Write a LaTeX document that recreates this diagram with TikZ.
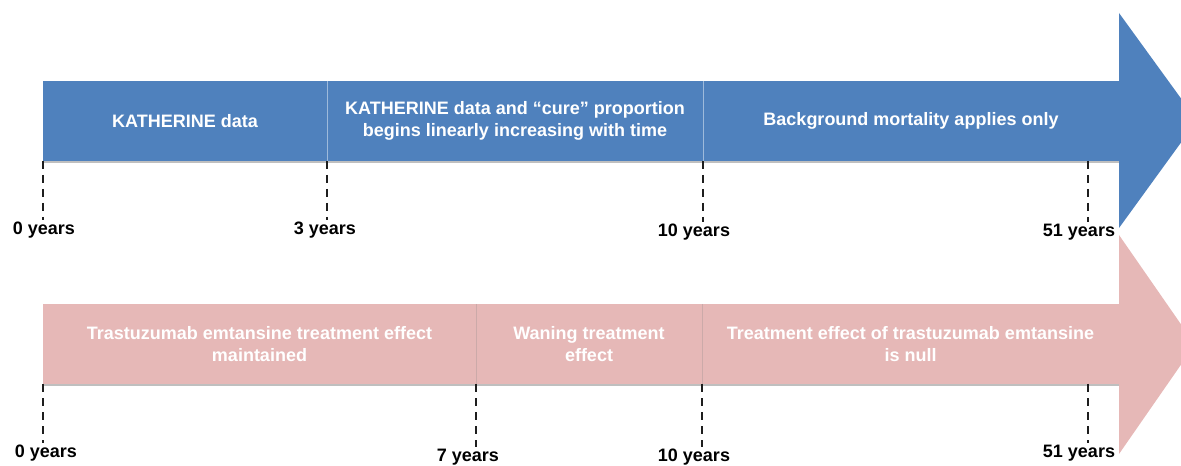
\documentclass[tikz,border=0pt]{standalone}
\usepackage{fontspec}
\setmainfont{Liberation Sans}
\usetikzlibrary{positioning,shadows}
\definecolor{barblue}{RGB}{79,129,189}
\definecolor{barpink}{RGB}{230,184,183}
\definecolor{tickgray}{RGB}{30,30,30}

\tikzset{
  segment/.style={minimum height=60pt, inner sep=2pt, outer sep=0pt, align=center,
    text=white, font=\fontsize{13.5}{17}\selectfont\bfseries,
    drop shadow={shadow xshift=0pt, shadow yshift=-1.5pt, opacity=0.25, fill=black}},
  bluebar/.style={segment, fill=barblue},
  pinkbar/.style={segment, fill=barpink},
  bluediv/.style={draw=barblue!55!white, line width=0.6pt},
  pinkdiv/.style={draw=barpink!75!gray, line width=0.6pt},
  yearlbl/.style={inner sep=0pt, text=black, font=\fontsize{13.5}{16}\selectfont\bfseries},
  tick/.style={draw=tickgray, line width=1.5pt, dash pattern=on 6pt off 4.5pt, shorten >=1pt},
}

\begin{document}
\begin{tikzpicture}[x=0.75pt, y=-0.75pt]
  \useasboundingbox (0,0) rectangle (1181,466);
  \clip (0,0) rectangle (1181,466);

  % upper timeline: survival data
  \node[bluebar, minimum width=213pt, anchor=north west] (kath) at (43,81) {KATHERINE data};
  \node[bluebar, minimum width=282pt, right=0pt of kath] (cure)
    {KATHERINE data and “cure” proportion\\begins linearly increasing with time};
  \node[bluebar, minimum width=312pt, right=0pt of cure] (backg) {Background mortality applies only};
  \fill[barblue] (backg.north east) -- ++(0,-68) -- ++(78,107.5) -- ++(-78,107.5)
    -- (backg.south east) -- cycle;
  \draw[bluediv] (kath.north east) -- (kath.south east);
  \draw[bluediv] (cure.north east) -- (cure.south east);

  \node[yearlbl] (u0) at (44,230) {0 years};
  \node[yearlbl] (u3) at (325,230) {3 years};
  \node[yearlbl] (u10) at (694,232) {10 years};
  \node[yearlbl] (u51) at (1079,232) {51 years};
  \coordinate (u51top) at (1088,161);
  \draw[tick] (kath.south west) -- (kath.south west |- u0.north);
  \draw[tick] (kath.south east) -- (kath.south east |- u3.north);
  \draw[tick] (cure.south east) -- (cure.south east |- u10.north);
  \draw[tick] (u51top) -- (u51top |- u51.north);

  % lower timeline: treatment effect
  \node[pinkbar, minimum width=324.75pt, anchor=north west] (kept) at (43,304)
    {Trastuzumab emtansine treatment effect\\maintained};
  \node[pinkbar, minimum width=169.5pt, right=0pt of kept] (wane) {Waning treatment\\effect};
  \node[pinkbar, minimum width=312.75pt, right=0pt of wane] (nulleff)
    {Treatment effect of trastuzumab emtansine\\is null};
  \fill[barpink] (nulleff.north east) -- ++(0,-69) -- ++(76,109.5) -- ++(-76,109.5)
    -- (nulleff.south east) -- cycle;
  \draw[pinkdiv] (kept.north east) -- (kept.south east);
  \draw[pinkdiv] (wane.north east) -- (wane.south east);

  \node[yearlbl] (l0) at (46,453) {0 years};
  \node[yearlbl] (l7) at (468,457) {7 years};
  \node[yearlbl] (l10) at (694,457) {10 years};
  \node[yearlbl] (l51) at (1079,453) {51 years};
  \coordinate (l51top) at (1088,384);
  \draw[tick] (kept.south west) -- (kept.south west |- l0.north);
  \draw[tick] (kept.south east) -- (kept.south east |- l7.north);
  \draw[tick] (wane.south east) -- (wane.south east |- l10.north);
  \draw[tick] (l51top) -- (l51top |- l51.north);
\end{tikzpicture}
\end{document}
